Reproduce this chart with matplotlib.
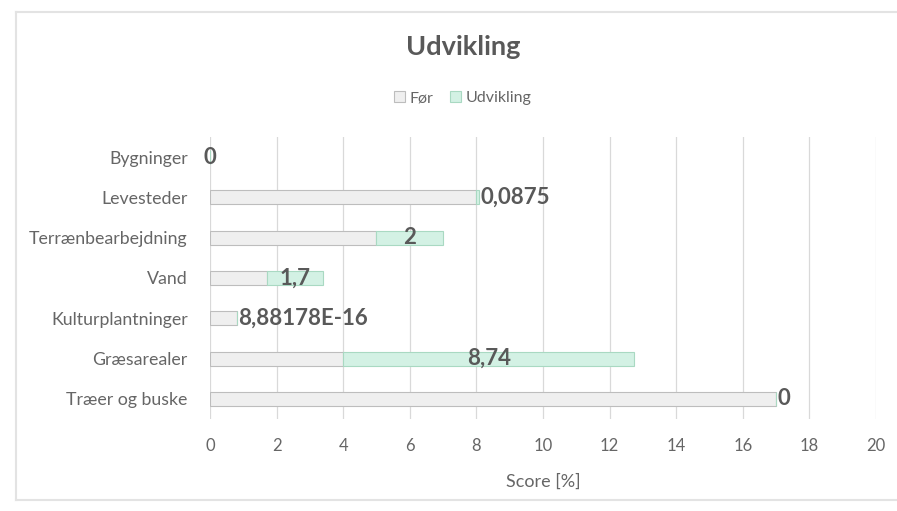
import matplotlib.pyplot as plt
from matplotlib.lines import Line2D

# Data
categories = ['Bygninger', 'Levesteder', 'Terrænbearbejdning', 'Vand',
              'Kulturplantninger', 'Græsarealer', 'Træer og buske']
before = [0, 8.0, 5.0, 1.7, 0.8, 4.0, 17.0]
development = [0, 0.0875, 2, 1.7, 8.88178e-16, 8.74, 0]
dev_labels = ['0', '0,0875', '2', '1,7', '8,88178E-16', '8,74', '0']
x_ticks = list(range(0, 21, 2))

plt.rcParams['font.family'] = ['Lato', 'DejaVu Sans']
TEXT = '#595959'

fig = plt.figure(figsize=(8.97, 5.11), dpi=100)
# chart frame (only left, top, bottom visible in the reference)
for xs, ys in [([0.018, 0.018], [0.022, 0.977]),
               ([0.018, 1.0], [0.977, 0.977]),
               ([0.018, 1.0], [0.022, 0.022])]:
    fig.add_artist(Line2D(xs, ys, transform=fig.transFigure, color='#e3e3e3', linewidth=1.5))

ax = fig.add_axes([0.2341, 0.180, 0.7425, 0.552])

y = list(range(len(categories)))
ax.barh(y, before, height=0.35, color='#efefef', edgecolor='#bdbdbd', linewidth=0.8, label='Før')
ax.barh(y, development, left=before, height=0.35, color='#d3f1e4', edgecolor='#a9d9c2',
        linewidth=0.8, label='Udvikling')

# labels of the development segment
for yi, b, d, txt in zip(y, before, development, dev_labels):
    if b + d == 0:
        ax.text(0, yi, txt, ha='center', va='center', fontsize=16, fontweight='bold', color=TEXT)
    elif d < 0.5:
        ax.text(b + d + 0.05, yi, txt, ha='left', va='center', fontsize=16, fontweight='bold', color=TEXT)
    else:
        ax.text(b + d / 2, yi, txt, ha='center', va='center', fontsize=16, fontweight='bold', color=TEXT)

ax.set_xlim(0, 20)
ax.set_ylim(len(categories) - 0.5, -0.5)
ax.set_xticks(x_ticks)
ax.set_yticks(y)
ax.set_yticklabels(categories)
ax.tick_params(axis='x', length=0, colors='#666666', labelsize=12, pad=14)
ax.tick_params(axis='y', length=0, colors='#666666', labelsize=12.8, pad=16)
ax.grid(axis='x', color='#d9d9d9', linewidth=0.9)
ax.set_axisbelow(True)
for s in ax.spines.values():
    s.set_visible(False)

ax.set_xlabel('Score [%]', color='#666666', fontsize=13, labelpad=14)
fig.text(0.516, 0.908, 'Udvikling', ha='center', va='center', fontsize=19.5,
         fontweight='bold', color=TEXT)
fig.legend(loc='center', bbox_to_anchor=(0.516, 0.808), ncol=2, frameon=False,
           fontsize=11.5, handlelength=0.7, handleheight=0.7, handletextpad=0.3,
           columnspacing=1.0, labelcolor='#666666')

fig.savefig('out.png', dpi=100, facecolor='white')
